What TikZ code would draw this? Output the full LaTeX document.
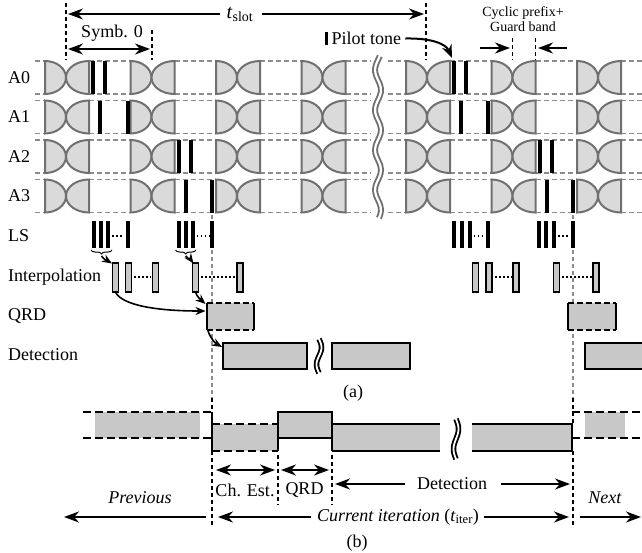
\documentclass[tikz,border=0pt]{standalone}
\usepackage{fontspec}
\setmainfont{Liberation Serif}
\usetikzlibrary{arrows.meta,decorations.pathreplacing,calc}
\definecolor{glyphline}{RGB}{112,112,112}
\definecolor{glyphfill}{RGB}{218,218,218}
\definecolor{boxfill}{RGB}{200,200,200}
\definecolor{railgray}{RGB}{140,140,140}
\tikzset{
 lbl/.style={font=\fontsize{18}{20}\selectfont, inner sep=0pt},
 small/.style={font=\fontsize{14}{15}\selectfont, inner sep=0pt, align=center},
 rail/.style={draw=railgray, line width=1.7pt, dash pattern=on 5pt off 3pt},
 sym/.style={draw=glyphline, fill=glyphfill, line width=2pt},
 arr/.style={-{Stealth[length=15pt,width=11pt]}, line width=2pt},
 darr/.style={{Stealth[length=15pt,width=11pt]}-{Stealth[length=15pt,width=11pt]}, line width=2pt},
 carr/.style={-{Stealth[length=10pt,width=8pt]}, line width=1.6pt},
 vdash/.style={line width=1.5pt, dash pattern=on 4pt off 3pt},
 gvdash/.style={draw=railgray, line width=1.5pt, dash pattern=on 4pt off 3pt},
 ibox/.style={draw=black, fill=boxfill, line width=1.6pt},
 bfill/.style={fill=boxfill},
 bsolid/.style={line width=2pt},
 bdash/.style={line width=2pt, dash pattern=on 8pt off 4pt},
 dots/.style={line width=1.5pt, dash pattern=on 1.5pt off 2.5pt},
}
\newcommand\symglyph[2]{%
 \path[sym] (#1-21,#2) .. controls (#1-9.4,#2) and (#1,#2+7.4) .. (#1,#2+16.5) .. controls (#1,#2+25.6) and (#1-9.4,#2+33) .. (#1-21,#2+33) -- cycle;
 \path[sym] (#1+23,#2) .. controls (#1+10.3,#2) and (#1,#2+7.4) .. (#1,#2+16.5) .. controls (#1,#2+25.6) and (#1+10.3,#2+33) .. (#1+23,#2+33) -- cycle;
}
\newcommand\pbar[3]{\fill (#1-2,#2) rectangle (#1+2,#3);}
\begin{document}
\begin{tikzpicture}[x=1pt,y=-1pt]
\useasboundingbox (0,0) rectangle (642,552);
% ---------- gray guide lines (behind everything)
\draw[gvdash] (212,215) -- (212,398);
\draw[gvdash] (573,215) -- (573,398);
% ---------- rows A0..A3
\foreach \yt in {61,100.5,140,179.5} {
  \foreach \s/\e in {35/45, 89/130.5, 174.5/216, 260/301.5, 345.5/370, 388/406, 450/491.5, 535.5/577, 621/642} {
    \draw[rail] (\s,\yt) -- (\e,\yt);
    \draw[rail] (\s,\yt+33) -- (\e,\yt+33);
  }
  \foreach \J in {66,151.5,237,322.5,427,512.5,598} { \symglyph{\J}{\yt} }
}
% pilots
\foreach \x in {93,105,454,466} { \pbar{\x}{61}{94} }
\foreach \x in {100,127.5,461,488} { \pbar{\x}{100.5}{133.5} }
\foreach \x in {178.5,190.5,539.5,551.5} { \pbar{\x}{140}{173} }
\foreach \x in {185.5,212,546.5,573} { \pbar{\x}{179.5}{212.5} }
% wavy break
\draw[glyphline, line width=6pt] plot[smooth, domain=56:218, samples=41, variable=\t] ({378+3*sin(\t*9)}, \t);
\draw[white, line width=2.2pt] plot[smooth, domain=54:220, samples=41, variable=\t] ({378+3*sin(\t*9)}, \t);
% labels
\node[lbl, anchor=west] (la0) at (8,78) {A0};
\node[lbl, anchor=west] (la1) at (8,117) {A1};
\node[lbl, anchor=west] (la2) at (8,157) {A2};
\node[lbl, anchor=west] (la3) at (8,196) {A3};
\node[lbl, anchor=west] (lls) at (8,236) {LS};
\node[lbl, anchor=west] (lint) at (8,277) {Interpolation};
\node[lbl, anchor=west] (lqrd) at (8,316) {QRD};
\node[lbl, anchor=west] (ldet) at (8,355) {Detection};
% top annotations
\draw[vdash] (66,3) -- (66,60);
\draw[vdash] (426,3) -- (426,60);
\draw[vdash] (152,30) -- (152,60);
\node[lbl, font=\fontsize{20}{22}\selectfont] (tslot) at (240,14) {\textit{t}\textsubscript{slot}};
\draw[arr] (tslot.west) ++(-6,0) -- (68,14);
\draw[arr] (tslot.east) ++(8,0) -- (424,14);
\node[lbl] (symb) at (112,33) {Symb. 0};
\draw[darr] (68,49) -- (150,49);
\fill (324.5,32) rectangle (328,45);
\node[lbl, anchor=west] (pilot) at (331.5,38.5) {Pilot tone};
\coordinate (ptgt) at (452,58);
\draw[line width=2pt, -{Stealth[length=13pt,width=10pt]}] ($(pilot.east)+(4,0)$) .. controls (432,38) and (446,44) .. (ptgt);
\node[small] (cp) at (523,19) {Cyclic prefix+\\Guard band};
\draw[vdash] (512.5,38) -- (512.5,60);
\draw[vdash] (535.5,38) -- (535.5,60);
\draw[arr] (480,48) -- (510,48);
\draw[arr] (567,48) -- (538,48);
% ---------- LS
\foreach \x in {94,101,108,127.5, 178.5,185.5,192.5,212, 454,461.5,469.5,488, 539,546,554,573} { \pbar{\x}{221}{248} }
\foreach \a/\b in {112/124, 196.5/209, 473.5/485, 558/570} { \draw[dots] (\a,236) -- (\b,236); }
\draw[decorate, decoration={brace, mirror, amplitude=4pt}, line width=1pt] (91,250) -- (112,250);
\draw[decorate, decoration={brace, mirror, amplitude=4pt}, line width=1pt] (175.5,250) -- (196,250);
% ---------- Interpolation
\foreach \x in {115.5,128.5,155.5,195.5,240,475.5,489,516,556.5,596} {
  \draw[ibox] (\x-3,263) rectangle (\x+3,292);
}
\foreach \a/\b in {134/151, 201/236, 495/512, 562/592} { \draw[dots] (\a,277) -- (\b,277); }
\coordinate (br1) at (101.5,256);
\coordinate (br2) at (185.7,256);
\coordinate (in1) at (112,263.5);
\coordinate (in2) at (193.5,263.5);
\draw[carr] (br1) .. controls (104,260) and (108,261) .. (in1);
\draw[carr] (br2) .. controls (188,259) and (191,260) .. (in2);
% ---------- QRD (a)
\foreach \a/\b in {207/254, 568/616} {
  \fill[bfill] (\a,303) rectangle (\b,330);
  \draw[bsolid] (\a,303) -- (\a,330);
  \draw[bsolid] (\b,303) -- (\b,330);
  \draw[line width=2pt, dash pattern=on 6pt off 3pt] (\a,303) -- (\b,303);
  \draw[line width=2pt, dash pattern=on 6pt off 3pt] (\a,330) -- (\b,330);
}
\coordinate (q1a) at (205.5,311);
\coordinate (q1b) at (205.5,304);
\coordinate (q1c) at (208,331);
\coordinate (d1) at (222,347);
\coordinate (in1b) at (115.5,292);
\coordinate (in2b) at (195.5,292);
\draw[carr] (in1b) .. controls (122,306) and (160,311) .. (q1a);
\draw[carr] (in2b) .. controls (197,297) and (201,300) .. (q1b);
\draw[carr] (q1c) .. controls (211,339) and (215,343) .. (d1);
% ---------- Detection (a)
\draw[bsolid, fill=boxfill] (223,343) rectangle (307,369);
\draw[bsolid, fill=boxfill] (332,343) rectangle (410,369);
\draw[bsolid, fill=boxfill] (585,343) rectangle (660,369);
\draw[black, line width=5.5pt] plot[smooth, domain=339:373, samples=25, variable=\t] ({319+2.5*sin((\t-339)*10.6)}, \t);
\draw[white, line width=1.8pt] plot[smooth, domain=336:376, samples=25, variable=\t] ({319+2.5*sin((\t-339)*10.6)}, \t);
\node[lbl] (capa) at (353,393) {(a)};
% ---------- (b) timeline
\fill[bfill] (95,412) rectangle (200,438);
\fill[bfill] (212,424) rectangle (278,451);
\fill[bfill] (278,412) rectangle (332,438);
\fill[bfill] (332,424) rectangle (440,451);
\fill[bfill] (472,424) rectangle (572,451);
\fill[bfill] (585,412) rectangle (625,438);
\draw[bdash] (83,412) -- (212,412);
\draw[bdash] (83,438) -- (212,438);
\draw[bdash] (212,424) -- (278,424);
\draw[bdash] (212,451) -- (278,451);
\draw[bdash] (572,412) -- (642,412);
\draw[bdash] (572,438) -- (642,438);
\draw[bsolid] (212,412) -- (212,451);
\draw[bsolid] (278,451) -- (278,412) -- (332,412) -- (332,451);
\draw[bsolid] (278,438) -- (332,438);
\draw[bsolid] (332,424) -- (440,424);
\draw[bsolid] (332,451) -- (440,451);
\draw[bsolid] (472,424) -- (572,424) -- (572,451) -- (472,451);
\draw[black, line width=5.5pt] plot[smooth, domain=419:459, samples=25, variable=\t] ({456+2.5*sin((\t-419)*9)}, \t);
\draw[white, line width=1.8pt] plot[smooth, domain=416:462, samples=25, variable=\t] ({456+2.5*sin((\t-419)*9)}, \t);
% vertical dashed markers
\draw[vdash] (212,398) -- (212,412);
\draw[vdash] (573,398) -- (573,424);
\draw[vdash] (212,451) -- (212,527);
\draw[vdash] (573,451) -- (573,527);
\draw[vdash] (278,455) -- (278,505);
\draw[vdash] (332,455) -- (332,505);
% (b) annotations
\draw[darr] (216,470) -- (275,470);
\draw[darr] (281,470) -- (329,470);
\node[lbl] (che) at (245,490) {Ch. Est.};
\node[lbl] (qrdb) at (304.5,490) {QRD};
\node[lbl] (detb) at (452,484) {Detection};
\draw[arr] (detb.west) ++(-12,0) -- (335,484);
\draw[arr] (detb.east) ++(14,0) -- (570,484);
\node[lbl] (prev) at (140,498) {\textit{Previous}};
\node[lbl] (next) at (605,498) {\textit{Next}};
\draw[arr] (206,517) -- (64,517);
\node[lbl] (cur) at (398,517) {\textit{Current iteration} (\textit{t}\textsubscript{iter})};
\draw[arr] (cur.west) ++(-6,0) -- (218,517);
\draw[arr] (cur.east) ++(5,0) -- (569,517);
\draw[arr] (580,517) -- (641,517);
\node[lbl] (capb) at (357,543) {(b)};
\end{tikzpicture}
\end{document}
